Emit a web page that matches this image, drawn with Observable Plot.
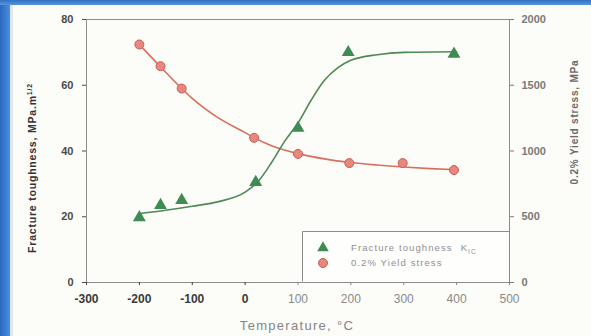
<!DOCTYPE html>
<html><head><meta charset="utf-8">
<script src="https://cdn.jsdelivr.net/npm/d3@7"></script>
<script src="https://cdn.jsdelivr.net/npm/@observablehq/plot@0.6"></script>
<style>
body{margin:0;background:#fff;}
#wrap{position:relative;width:591px;height:336px;background:#fcfcf8;overflow:hidden;font-family:"Liberation Sans",Arial,sans-serif;}
#bl{position:absolute;left:0;top:0;width:10px;height:336px;background:linear-gradient(90deg,#2a68bd,#4a8fe0);}
#bl2{position:absolute;left:10px;top:5px;width:3px;height:331px;background:#dfe6ec;}
#bt{position:absolute;left:0;top:0;width:591px;height:5px;background:linear-gradient(180deg,#2f70c6,#5a96dc);}
#legend{position:absolute;left:302px;top:231px;width:207px;height:51px;background:#fefefd;}
#chart{position:absolute;left:0;top:0;}
</style></head>
<body>
<div id="wrap"><div id="bl"></div><div id="bl2"></div><div id="bt"></div><div id="legend"></div><div id="chart"></div></div>
<script>
// Fracture toughness data points (°C, MPa·m^1/2)
const toughTemp = [-200, -160, -120, 20, 100, 195, 395];
const toughness = [19.8, 23.5, 25, 30.5, 47, 70, 69.5];
// 0.2% yield stress data points (°C, MPa)
const stressTemp = [-200, -160, -120, 17, 100, 197, 298, 395];
const yieldStress = [1810, 1645, 1475, 1100, 978, 908, 908, 855];
// fitted curves
const toughFitTemp = [-200, -150, -100, -50, 0, 25, 50, 75, 100, 125, 150, 175, 200, 250, 300, 400];
const toughFit = [21, 22, 23.2, 24.6, 27.5, 30.8, 36.5, 43, 48.5, 55.5, 61.5, 65.3, 67.6, 69.3, 70, 70.2];
const stressFitTemp = [-200, -160, -120, -100, -50, 0, 15, 50, 100, 150, 200, 250, 300, 350, 400];
const stressFit = [1810, 1640, 1475, 1400, 1250, 1140, 1105, 1040, 980, 940, 912, 893, 878, 866, 857];
// axis ticks
const xTicksDark = [-300, -200, -100, 0];
const xTicksLight = [100, 200, 300, 400, 500];
const leftTicks = [0, 20, 40, 60, 80];
const rightTicks = [0, 500, 1000, 1500, 2000];
const stressPerUnit = 25; // 2000 MPa on right axis ↔ 80 on left axis

const kRows = toughTemp.map((t, i) => ({t, v: toughness[i]}));
const sRows = stressTemp.map((t, i) => ({t, v: yieldStress[i] / stressPerUnit}));
const kFit = toughFitTemp.map((t, i) => ({t, v: toughFit[i]}));
const sFit = stressFitTemp.map((t, i) => ({t, v: stressFit[i] / stressPerUnit}));

const green = "#3f8c52", greenLine = "#4d8a55";
const redFill = "#e8877d", redStroke = "#c95d57", redLine = "#d9705f";

const chart = Plot.plot({
  width: 591, height: 336,
  marginLeft: 86, marginRight: 82, marginTop: 19, marginBottom: 54,
  style: {background: "transparent", fontFamily: "Liberation Sans, Arial, sans-serif"},
  x: {domain: [-300, 500]},
  y: {domain: [0, 80]},
  marks: [
    Plot.frame({stroke: "#8c8c8c"}),
    Plot.axisY({anchor: "left", ticks: leftTicks, tickSize: 4, tickPadding: 9, fontSize: 11, fontWeight: "bold", color: "#4a4a4a", label: null, style: {letterSpacing: "1px"}}),
    Plot.axisY({anchor: "right", ticks: rightTicks.map(v => v / stressPerUnit), tickFormat: d => String(Math.round(d * stressPerUnit)), tickSize: 4, tickPadding: 8, fontSize: 11, fontWeight: "bold", color: "#7a7a7a", label: null, style: {letterSpacing: "1.5px"}}),
    Plot.axisX({anchor: "bottom", ticks: xTicksDark, tickFormat: d => String(d), tickSize: 3, tickPadding: 9, fontSize: 12, fontWeight: "bold", color: "#3a3a3a", label: null, style: {letterSpacing: "1px"}}),
    Plot.axisX({anchor: "bottom", ticks: xTicksLight, tickFormat: d => String(d), tickSize: 3, tickPadding: 9, fontSize: 12, color: "#8a8a8a", label: null, style: {letterSpacing: "1.5px"}}),
    Plot.line(sFit, {x: "t", y: "v", curve: "monotone-x", stroke: redLine, strokeWidth: 1.6}),
    Plot.line(kFit, {x: "t", y: "v", curve: "monotone-x", stroke: greenLine, strokeWidth: 1.6}),
    Plot.dot(sRows, {x: "t", y: "v", r: 4.5, fill: redFill, stroke: redStroke, strokeWidth: 1}),
    Plot.dot(kRows, {x: "t", y: "v", symbol: "triangle", r: 4.8, fill: green})
  ]
});
document.getElementById("chart").appendChild(chart);

const svg = d3.select(chart);
const lt = svg.append("text")
  .attr("transform", "translate(36,168) rotate(-90)")
  .attr("text-anchor", "middle").attr("font-size", 10.5).attr("font-weight", "bold")
  .attr("fill", "#333").style("letter-spacing", "0.8px");
lt.append("tspan").text("Fracture toughness, MPa.m");
lt.append("tspan").attr("font-size", 7).attr("dy", -4).text("1/2");

svg.append("text")
  .attr("transform", "translate(578,122) rotate(-90)")
  .attr("text-anchor", "middle").attr("font-size", 10).attr("font-weight", "bold")
  .attr("fill", "#6a6a6a").style("letter-spacing", "0.8px")
  .text("0.2% Yield stress, MPa");

svg.append("text")
  .attr("x", 297).attr("y", 330)
  .attr("text-anchor", "middle").attr("font-size", 13).attr("fill", "#858585")
  .style("letter-spacing", "1.3px")
  .text("Temperature, °C");

// legend
const leg = d3.select("#legend").append("svg").attr("width", 207).attr("height", 51)
  .style("font-family", "Liberation Sans, Arial, sans-serif");
leg.append("path").attr("d", "M0.5,50.5V0.5H207").attr("fill", "none").attr("stroke", "#8c8c8c");
leg.append("path").attr("transform", "translate(21,17)").attr("d", d3.symbol(d3.symbolTriangle, 58)()).attr("fill", green);
leg.append("circle").attr("cx", 21).attr("cy", 32).attr("r", 4.5).attr("fill", redFill).attr("stroke", redStroke);
const t1 = leg.append("text").attr("x", 49).attr("y", 20).attr("font-size", 9.5).attr("fill", "#8f8f8f").style("letter-spacing", "1.1px");
t1.append("tspan").text("Fracture toughness");
t1.append("tspan").attr("dx", 8).text("K");
t1.append("tspan").attr("font-size", 6.5).attr("dy", 3).text("IC");
leg.append("text").attr("x", 49).attr("y", 35).attr("font-size", 9.5).attr("fill", "#8f8f8f").style("letter-spacing", "1.1px").text("0.2% Yield stress");
</script>
</body></html>
